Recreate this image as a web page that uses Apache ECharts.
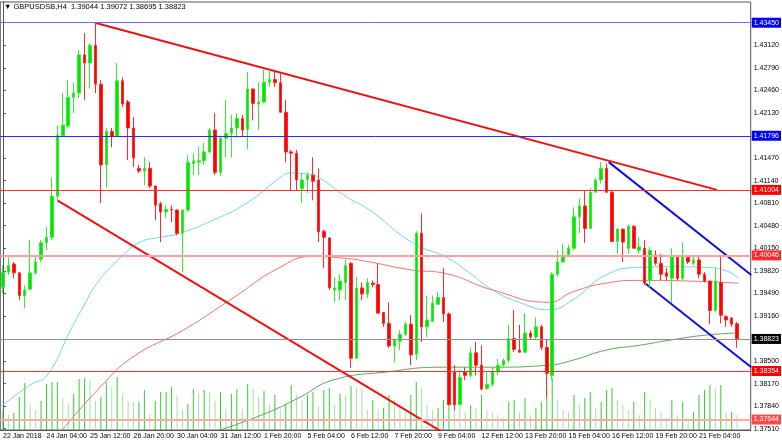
<!DOCTYPE html>
<html>
<head>
<meta charset="utf-8">
<script src="https://cdn.jsdelivr.net/npm/echarts@6/dist/echarts.min.js"></script>
<style>
  html, body { margin: 0; padding: 0; background: #fff; }
  #chart { width: 782px; height: 445px; }
</style>
</head>
<body>
<div id="chart"></div>
<script>
// GBPUSDSB H4 candles
const opens = [1.3958,1.3980,1.3992,1.3979,1.3945,1.3955,1.3979,1.3999,1.4023,1.4031,
  1.4091,1.4180,1.4194,1.4236,1.4242,1.4298,1.4286,1.4312,1.4255,1.4137,
  1.4186,1.4179,1.4260,1.4229,1.4191,1.4132,1.4128,1.4132,1.4106,1.4080,
  1.4068,1.4072,1.4071,1.4037,1.4071,1.4139,1.4141,1.4143,1.4156,1.4188,
  1.4126,1.4176,1.4183,1.4191,1.4205,1.4189,1.4248,1.4226,1.4229,1.4258,
  1.4262,1.4257,1.4214,1.4156,1.4154,1.4102,1.4115,1.4122,1.4115,1.4040,
  1.4030,1.3954,1.3954,1.3965,1.3993,1.3854,1.3957,1.3948,1.3964,1.3962,
  1.3921,1.3905,1.3872,1.3879,1.3889,1.3904,1.3860,1.4037,1.3900,1.3908,
  1.3933,1.3943,1.3919,1.3834,1.3786,1.3834,1.3829,1.3862,1.3844,1.3810,
  1.3816,1.3834,1.3844,1.3851,1.3883,1.3866,1.3863,1.3891,1.3885,1.3900,
  1.3870,1.3829,1.3977,1.3995,1.4005,1.4015,1.4061,1.4077,1.4044,1.4097,
  1.4115,1.4132,1.4097,1.4025,1.4043,1.4015,1.4047,1.4012,1.4015,1.3968,
  1.4005,1.3993,1.3979,1.3971,1.4002,1.3971,1.4002,1.3993,1.3998,1.3977,
  1.3967,1.3924,1.3965,1.3915,1.3913,1.39044];
const closes = [1.3980,1.3990,1.3979,1.3946,1.3954,1.3979,1.3995,1.4023,1.4031,1.4091,
  1.4180,1.4195,1.4236,1.4242,1.4298,1.4286,1.4312,1.4255,1.4137,1.4186,
  1.4179,1.4260,1.4226,1.4191,1.4147,1.4128,1.4132,1.4106,1.4078,1.4068,
  1.4072,1.4071,1.4037,1.4071,1.4141,1.4143,1.4143,1.4156,1.4188,1.4126,
  1.4176,1.4183,1.4191,1.4205,1.4188,1.4248,1.4227,1.4229,1.4258,1.4262,
  1.4257,1.4214,1.4156,1.4154,1.4115,1.4115,1.4122,1.4113,1.4039,1.4031,
  1.3957,1.3957,1.3967,1.3990,1.3854,1.3957,1.3948,1.3965,1.3962,1.3920,
  1.3905,1.3872,1.3881,1.3889,1.3904,1.3859,1.4037,1.3900,1.3910,1.3935,
  1.3943,1.3919,1.3786,1.3786,1.3826,1.3829,1.3862,1.3844,1.3809,1.3816,
  1.3835,1.3844,1.3851,1.3883,1.3867,1.3863,1.3891,1.3885,1.3900,1.3870,
  1.3832,1.3977,1.3995,1.4005,1.4015,1.4061,1.4077,1.4044,1.4097,1.4115,
  1.4132,1.4097,1.4025,1.4043,1.4024,1.4047,1.4015,1.4017,1.3964,1.4012,
  1.3993,1.3977,1.3974,1.4003,1.3971,1.4003,1.3995,1.3998,1.3977,1.3967,
  1.3924,1.3967,1.3917,1.3910,1.3904,1.38823];
const highs = [1.3990,1.4002,1.3995,1.3980,1.3961,1.4027,1.4002,1.4027,1.4046,1.4118,
  1.4195,1.4242,1.4261,1.4257,1.4305,1.4330,1.4315,1.4345,1.4261,1.4191,
  1.4191,1.4286,1.4265,1.4232,1.4207,1.4137,1.4148,1.4141,1.4107,1.4083,
  1.4078,1.4078,1.4072,1.4072,1.4151,1.4154,1.4163,1.4169,1.4191,1.4213,
  1.4180,1.4232,1.4210,1.4213,1.4210,1.4273,1.4249,1.4258,1.4276,1.4276,
  1.4273,1.4271,1.4232,1.4159,1.4159,1.4125,1.4126,1.4148,1.4132,1.4042,
  1.4031,1.3973,1.3977,1.3998,1.3995,1.3973,1.3965,1.3971,1.3968,1.3993,
  1.3921,1.3936,1.3883,1.3895,1.3908,1.3917,1.4040,1.4066,1.3946,1.3946,
  1.3951,1.3986,1.3921,1.3844,1.3837,1.3841,1.3870,1.3878,1.3873,1.3834,
  1.3840,1.3853,1.3854,1.3903,1.3925,1.3903,1.3920,1.3895,1.3914,1.3903,
  1.3881,1.3980,1.4012,1.4022,1.4020,1.4075,1.4088,1.4100,1.4103,1.4118,
  1.4141,1.4139,1.4100,1.4044,1.4044,1.4050,1.4049,1.4031,1.4027,1.4017,
  1.4012,1.4007,1.3986,1.4015,1.4005,1.4023,1.4005,1.4003,1.4002,1.3980,
  1.3968,1.3987,1.4005,1.3917,1.3914,1.39072];
const lows = [1.3949,1.3976,1.3971,1.3939,1.3927,1.3954,1.3976,1.3995,1.4012,1.4027,
  1.4085,1.4178,1.4191,1.4213,1.4235,1.4232,1.4249,1.4242,1.4081,1.4104,
  1.4163,1.4178,1.4222,1.4144,1.4134,1.4125,1.4107,1.4103,1.4056,1.4024,
  1.4059,1.4053,1.4034,1.3980,1.4068,1.4122,1.4122,1.4137,1.4154,1.4122,
  1.4121,1.4148,1.4148,1.4176,1.4178,1.4160,1.4202,1.4188,1.4227,1.4251,
  1.4251,1.4213,1.4141,1.4100,1.4100,1.4081,1.4096,1.4085,1.4024,1.3986,
  1.3954,1.3936,1.3939,1.3939,1.3840,1.3854,1.3939,1.3942,1.3958,1.3920,
  1.3900,1.3869,1.3848,1.3866,1.3887,1.3844,1.3851,1.3878,1.3885,1.3907,
  1.3932,1.3907,1.3786,1.3778,1.3786,1.3822,1.3826,1.3829,1.3807,1.3807,
  1.3813,1.3829,1.3841,1.3847,1.3863,1.3862,1.3862,1.3882,1.3881,1.3866,
  1.3797,1.3822,1.3973,1.3993,1.4003,1.4012,1.4037,1.4023,1.4044,1.4096,
  1.4110,1.4096,1.4024,1.4007,1.3995,1.4007,1.4015,1.4007,1.3961,1.3958,
  1.3990,1.3968,1.3968,1.3935,1.3968,1.3968,1.3992,1.3990,1.3971,1.3965,
  1.3904,1.3921,1.3905,1.3900,1.3900,1.38695];
const volumes = [20,15,17,33,47,25,20,29,46,48,48,32,27,36,51,52,50,29,33,48,
  43,53,36,29,28,28,40,16,29,38,38,43,34,20,26,41,37,40,38,29,
  38,21,36,41,21,46,41,33,39,25,35,21,26,45,35,30,35,38,24,40,
  42,25,36,35,44,43,42,20,30,21,22,35,30,26,18,35,48,42,25,20,
  22,30,45,38,33,18,25,22,35,20,18,15,12,28,30,18,32,15,22,28,
  40,52,30,20,18,35,25,32,38,22,28,40,42,30,25,20,28,15,38,30,
  22,18,12,30,15,28,10,18,35,40,45,42,45,18,18,15];

// moving averages, [bar, price] read at points along each curve
const ma1 = [[-0.5,1.3783],[5,1.3815],[8.1,1.3829],[12.4,1.3895],[14.6,1.3927],[17.3,1.3964],
  [22.1,1.4005],[25.2,1.4024],[28.9,1.4031],[32.5,1.4037],[38.6,1.4056],[44.8,1.4081],
  [50.9,1.4118],[52.7,1.4125],[56.4,1.4123],[58.2,1.4118],[63.2,1.4090],[67.4,1.4071],
  [75.3,1.4023],[81.5,1.4002],[85.8,1.3979],[90,1.3954],[94.9,1.3936],[100.4,1.3925],
  [104.7,1.3939],[110.9,1.3976],[117,1.3987],[123,1.3988],[129.3,1.3987],[133,1.3982],[135.3,1.3971]];
const ma2 = [[10.9,1.3749],[17.9,1.3812],[23.9,1.3856],[33.1,1.3895],[41.7,1.3939],[50.9,1.3987],
  [57,1.4003],[63.2,1.4000],[67.4,1.3995],[75.3,1.3983],[80.8,1.3979],[90,1.3954],
  [100.4,1.3936],[104.7,1.3951],[110.9,1.3964],[117,1.3968],[126.1,1.3967],[135.3,1.3964]];
const ma3 = [[39.9,1.3749],[48.5,1.3774],[54.6,1.3797],[60.6,1.3822],[70.5,1.3834],[80.8,1.3841],
  [90,1.3841],[100.4,1.3844],[104.7,1.3851],[110.9,1.3866],[117,1.3873],[123,1.3881],
  [129.3,1.3888],[135.3,1.3891]];

// trend lines [bar, price]
const trendRedTop = [[16.9,1.4345],[131.3,1.41004]];
const trendRedLow = [[10,1.4085],[81,1.3745]];
const channelTop = [[111.4,1.4141],[137.6,1.3976]];
const channelLow = [[118.2,1.3963],[137.6,1.3841]];

// horizontal levels
const levels = [
  { v: 1.43450, line: '#6b6bff', w: 1, bg: '#0000ff' },
  { v: 1.41796, line: '#2a2aff', w: 1, bg: '#0000ff' },
  { v: 1.41004, line: '#ff3030', w: 1, bg: '#ff0000' },
  { v: 1.40046, line: '#ffa0a0', w: 2, bg: '#ff2a2a' },
  { v: 1.38823, line: '#909090', w: 1, bg: '#000000' },
  { v: 1.38354, line: '#ff3030', w: 1, bg: '#ff0000' },
  { v: 1.37644, line: '#ffa8a8', w: 2, bg: '#ff4a4a' }
];
const priceTicks = [1.4312,1.4279,1.4246,1.4213,1.4147,1.4114,1.4081,1.4048,1.4015,
  1.3982,1.3949,1.3916,1.3850,1.3817,1.3784,1.3751];

const MONTHS = ['Jan','Feb','Mar','Apr','May','Jun','Jul','Aug','Sep','Oct','Nov','Dec'];
const pad = n => (n < 10 ? '0' : '') + n;
const dates = [];
let t = Date.UTC(2018, 0, 22, 20);
for (let i = 0; i < opens.length + 2; i++) {
  const d = new Date(t);
  dates.push(d.getUTCDate() + ' ' + MONTHS[d.getUTCMonth()] + ' ' + pad(d.getUTCHours()) + ':00');
  t += 4 * 3600 * 1000;
  if (new Date(t).getUTCDay() === 6) t += 48 * 3600 * 1000;
}

const candles = opens.map((o, i) => [o, closes[i], lows[i], highs[i]]);
const volBars = volumes.map((v, i) => ({
  value: v,
  itemStyle: { color: (i > 0 && v < volumes[i - 1]) ? '#a6e0a6' : '#33cc33' }
}));

const FONT = '"Liberation Sans", Arial, sans-serif';
const FS = 7;
const chart = echarts.init(document.getElementById('chart'));

const lineSeries = (data, color, width) => ({
  type: 'line', xAxisIndex: 1, yAxisIndex: 0, data: data, symbol: 'none',
  smooth: true, lineStyle: { color: color, width: width }, silent: true, clip: true, z: 3
});

chart.setOption({
  animation: false,
  backgroundColor: '#fff',
  textStyle: { fontFamily: FONT },
  graphic: [{
    type: 'text', left: 4, top: 3,
    style: { text: '\u25BC GBPUSDSB,H4  1.39044 1.39072 1.38695 1.38823', fontSize: 7.5, fontFamily: FONT, fill: '#000' }
  }],
  grid: { left: 0, right: 30, top: 2, bottom: 15, show: true, borderColor: '#555', borderWidth: 1 },
  xAxis: [{
    type: 'category', data: dates, boundaryGap: true,
    axisLine: { lineStyle: { color: '#555' } },
    axisTick: { interval: i => i % 8 === 0 && i < 136, length: 3, lineStyle: { color: '#555' } },
    axisLabel: {
      interval: i => i % 8 === 0 && i < 136, hideOverlap: false, showMinLabel: true,
      formatter: (v, i) => i === 0 ? '22 Jan 2018' : v,
      align: 'left', fontSize: FS, color: '#000', margin: 3, fontFamily: FONT
    },
    splitLine: { show: false }
  }, {
    type: 'value', min: -0.5, max: dates.length - 0.5, show: false
  }],
  yAxis: [{
    type: 'value', position: 'right', min: 1.37491, max: 1.43753, scale: true,
    axisLine: { show: true, lineStyle: { color: '#555' } },
    axisTick: { show: true, customValues: priceTicks, length: 3, lineStyle: { color: '#555' } },
    axisLabel: { customValues: priceTicks, formatter: v => v.toFixed(5), fontSize: FS, color: '#000', margin: 3, fontFamily: FONT },
    splitLine: { show: false }
  }, {
    type: 'value', min: 0, max: 428, show: false
  }],
  series: [{
    type: 'bar', xAxisIndex: 0, yAxisIndex: 1, data: volBars, barWidth: 1, silent: true, z: 1
  },
  lineSeries(ma1, '#6fd8e0', 1),
  lineSeries(ma2, '#f07070', 1),
  lineSeries(ma3, '#5aa85a', 1),
  lineSeries(trendRedTop, '#ee1111', 2),
  lineSeries(trendRedLow, '#ee1111', 2),
  lineSeries(channelTop, '#1010dd', 2),
  lineSeries(channelLow, '#1010dd', 2),
  {
    type: 'line', xAxisIndex: 1, yAxisIndex: 0, data: [], silent: true, z: 2,
    markLine: {
      symbol: 'none', silent: true, animation: false,
      data: levels.map(l => ([
        { coord: [-0.5, l.v], lineStyle: { color: l.line, width: l.w, type: 'solid' },
          label: {
            show: true, position: 'end', distance: 1, formatter: l.v.toFixed(5),
            backgroundColor: l.bg, color: '#fff', fontSize: FS, fontFamily: FONT, padding: [2, 2, 1, 2]
          } },
        { coord: [dates.length - 0.5, l.v] }
      ]))
    }
  },
  {
    type: 'candlestick', xAxisIndex: 0, yAxisIndex: 0, data: candles, barWidth: 3, z: 4,
    itemStyle: { color: '#00e600', color0: '#ff0000', borderColor: '#33ee33', borderColor0: '#ff2a2a', borderWidth: 1 }
  }]
});
</script>
</body>
</html>
